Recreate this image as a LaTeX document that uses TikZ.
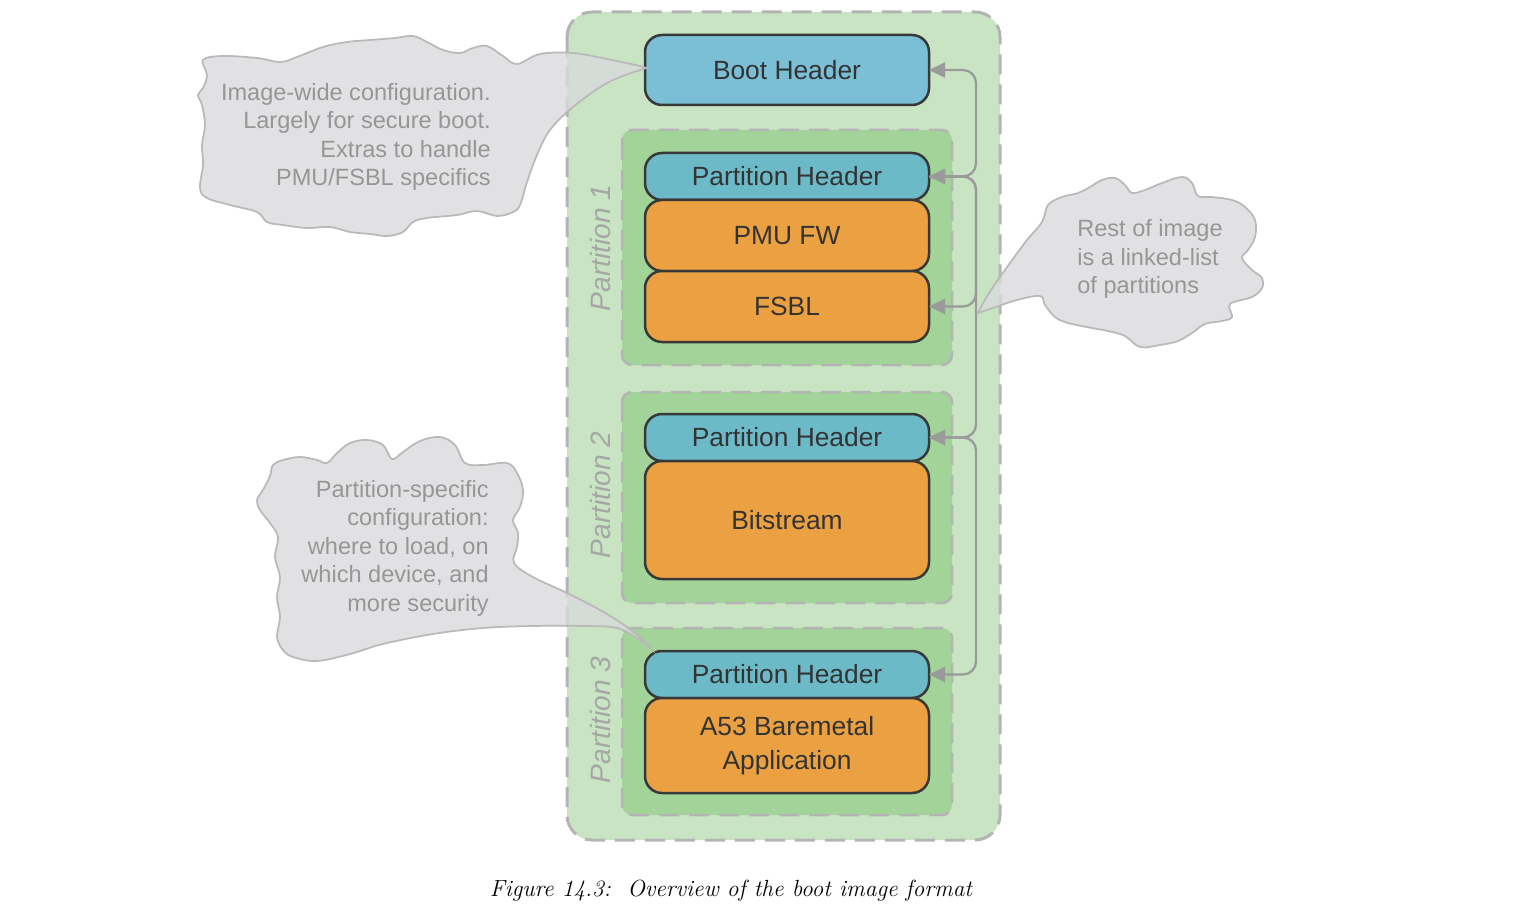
\documentclass[tikz,border=0pt]{standalone}
\usepackage{fontspec}
\newfontfamily\arialfont{Liberation Sans}
\usetikzlibrary{arrows.meta,positioning}

\definecolor{outergreen}{HTML}{C9E4C3}
\definecolor{partgreen}{HTML}{A2D49A}
\definecolor{dashgray}{HTML}{B4B4B4}
\definecolor{bootblue}{HTML}{7ABFD6}
\definecolor{headblue}{HTML}{6CB9C7}
\definecolor{bodyorange}{HTML}{EBA142}
\definecolor{boxline}{HTML}{383838}
\definecolor{boxtext}{HTML}{333333}
\definecolor{linkgray}{HTML}{9A9A9A}
\definecolor{calloutfill}{HTML}{D9DADD}
\definecolor{calloutline}{HTML}{B9B9B9}
\definecolor{notegray}{HTML}{969696}
\definecolor{partgray}{HTML}{A6A6A6}

\tikzset{
  box/.style={draw=boxline,line width=0.5mm,rounded corners=3.4mm,minimum width=56.8mm,
    inner sep=0pt,outer sep=0pt,align=center,text=boxtext,
    font=\arialfont\fontsize{15}{19}\selectfont},
  header/.style={box,fill=headblue,minimum height=9.4mm},
  body/.style={box,fill=bodyorange},
  frame/.style={draw=dashgray,line width=0.5mm,dash pattern=on 4mm off 2mm},
  partlabel/.style={rotate=90,text=partgray,font=\arialfont\itshape\fontsize{16}{19}\selectfont},
  link/.style={draw=linkgray,line width=0.45mm,rounded corners=2.6mm,<->},
  callout/.style={fill=calloutfill,fill opacity=0.8,draw=calloutline,line width=0.35mm},
  note/.style={inner sep=0pt,text=notegray,font=\arialfont\fontsize{13.4}{16.2}\selectfont}
}

\begin{document}
\begin{tikzpicture}[x=0.2mm,y=-0.2mm,>={Triangle[length=3.2mm,width=3mm]}]

\useasboundingbox (0,0) rectangle (1517,915);

% image and partitions
\draw[frame,fill=outergreen,rounded corners=5mm,line width=0.6mm] (567,12) rectangle (1000,840);
\draw[frame,fill=partgreen,rounded corners=2mm] (622,130) rectangle (952,365);
\draw[frame,fill=partgreen,rounded corners=2mm] (622,392) rectangle (952,603);
\draw[frame,fill=partgreen,rounded corners=2mm] (622,628) rectangle (952,815);

\node[partlabel] (p1label) at (600,248) {Partition 1};
\node[partlabel] (p2label) at (600,495) {Partition 2};
\node[partlabel] (p3label) at (600,720) {Partition 3};

\node[box,fill=bootblue,minimum height=14mm] (boot) at (787,70) {Boot Header};

\node[header] (ph1) at (787,176.5) {Partition Header};
\node[body,minimum height=14.2mm,below=0mm of ph1] (pmu) {PMU FW};
\node[body,minimum height=14.2mm,below=0mm of pmu] (fsbl) {FSBL};

\node[header] (ph2) at (787,437.5) {Partition Header};
\node[body,minimum height=23.6mm,below=0mm of ph2] (bit) {Bitstream};

\node[header] (ph3) at (787,674.5) {Partition Header};
\node[body,minimum height=19mm,below=0mm of ph3] (a53) {A53 Baremetal\\Application};

% linked list
\draw[link] (boot.east) -- ++(47,0) |- (ph1.east);
\draw[link,->] (ph1.east) -- ++(47,0) |- (fsbl.east);
\draw[link] (ph1.east) -- ++(47,0) |- (ph2.east);
\draw[link] (ph2.east) -- ++(47,0) |- (ph3.east);

% callouts
\filldraw[callout] (646,68) -- plot[smooth,tension=0.6] coordinates {(640,66) (607,59) (573,53) (540,54) (517,64)
  (503,56) (487,46) (473,48) (460,53) (443,50) (427,42) (413,36) (395,38) (370,40) (347,42) (323,47) (297,57)
  (280,62) (257,58) (223,56) (203,60) (207,75) (203,88) (198,95) (202,105) (205,125) (202,145) (203,165)
  (200,188) (207,198) (230,205) (257,212) (267,222) (283,225) (307,228) (330,227) (350,232) (370,234)
  (387,236) (403,232) (413,222) (427,218) (457,215) (477,211) (497,216) (513,212) (520,205) (527,182)
  (537,155) (550,130) (573,107) (607,83) (640,70)} -- cycle;%boot header

\filldraw[callout] (650,648) -- plot[smooth,tension=0.6] coordinates {(645,642) (627,627) (600,610) (567,593)
  (533,577) (514,563) (517,547) (518,533) (513,520) (520,507) (523,490) (517,473) (507,463) (483,465)
  (465,463) (455,445) (440,437) (420,441) (403,452) (392,459) (383,445) (367,440) (350,443) (337,453)
  (327,463) (317,460) (300,457) (283,460) (273,465) (270,476) (263,490) (257,500) (260,510) (270,523)
  (278,537) (275,557) (280,577) (277,597) (280,617) (277,637) (283,650) (293,657) (317,661) (350,654)
  (383,644) (433,634) (483,628) (533,626) (583,626) (617,628) (640,640)} -- cycle;%partition header

\filldraw[callout] (978,313) -- plot[smooth,tension=0.6] coordinates {(982,305) (993,287) (1010,263) (1027,240)
  (1042,222) (1048,205) (1062,197) (1078,193) (1090,187) (1102,180) (1115,178) (1125,185) (1132,193)
  (1145,190) (1162,183) (1182,177) (1192,183) (1198,196) (1212,197) (1232,200) (1245,207) (1255,220)
  (1255,237) (1248,250) (1242,258) (1252,270) (1262,278) (1262,288) (1252,297) (1230,304) (1232,317)
  (1222,321) (1205,324) (1192,333) (1178,341) (1160,345) (1140,347) (1125,336) (1108,331) (1092,328)
  (1068,323) (1055,317) (1045,305) (1040,296) (1017,300) (993,308)} -- cycle;%linked list

\node[note,anchor=east,align=right] (bootnote) at (491,137)
  {Image-wide configuration.\\Largely for secure boot.\\Extras to handle\\PMU/FSBL specifics};
\node[note,anchor=east,align=right] (partnote) at (489,548)
  {Partition-specific\\configuration:\\where to load, on\\which device, and\\more security};
\node[note,anchor=west,align=left] (listnote) at (1077,259)
  {Rest of image\\is a linked-list\\of partitions};

\node[font=\fontsize{13.3}{16}\selectfont\itshape] (caption) at (731,891)
  {Figure 14.3:\ \ Overview of the boot image format};

\end{tikzpicture}
\end{document}
